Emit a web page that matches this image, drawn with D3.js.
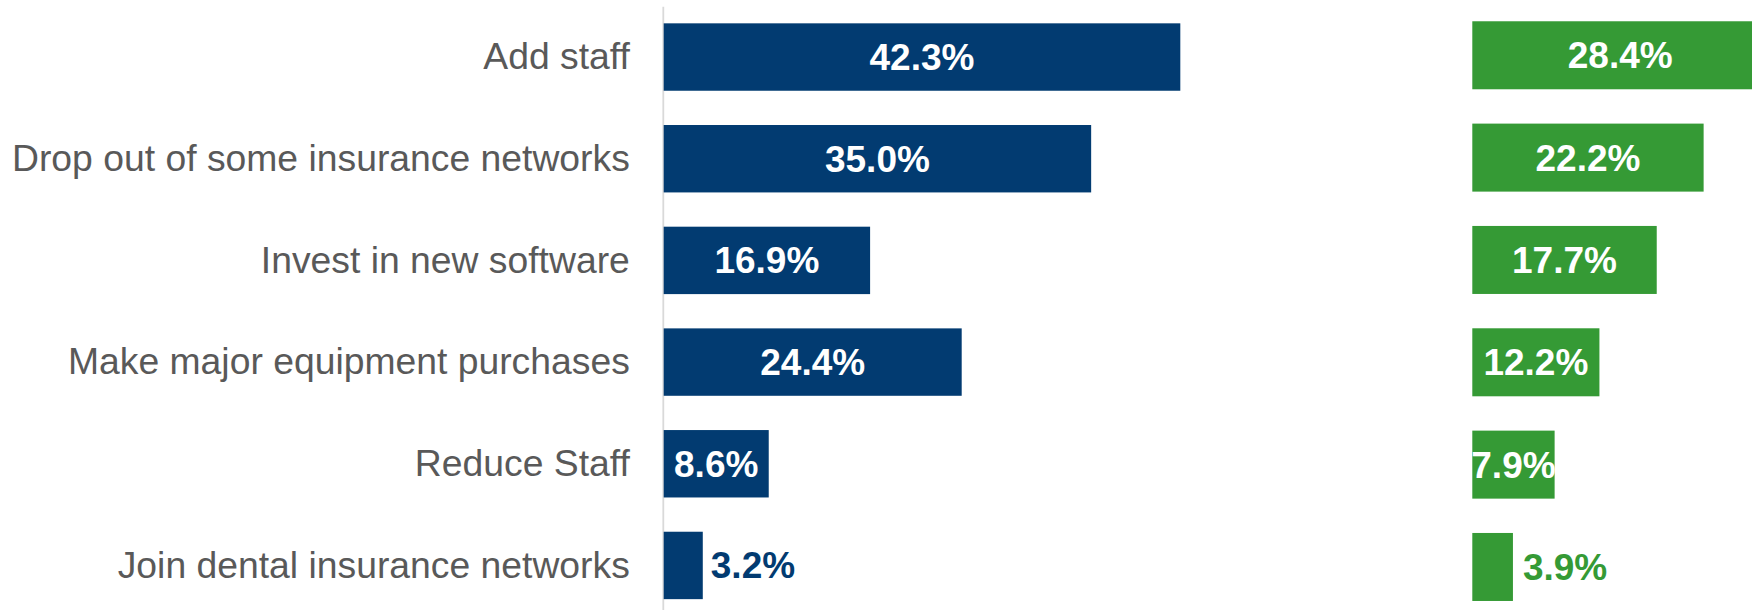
<!DOCTYPE html>
<html>
<head>
<meta charset="utf-8">
<script src="https://cdn.jsdelivr.net/npm/d3@7"></script>
<style>
  html, body { margin: 0; padding: 0; background: #ffffff; }
  svg { display: block; font-family: "Liberation Sans", Arial, Helvetica, sans-serif; }
</style>
</head>
<body>
<svg id="chart" width="1752" height="610"></svg>
<script>
// Planned practice changes, two groups shown side by side
const categories = [
  "Add staff",
  "Drop out of some insurance networks",
  "Invest in new software",
  "Make major equipment purchases",
  "Reduce Staff",
  "Join dental insurance networks"
];
const blueValues  = [42.3, 35.0, 16.9, 24.4, 8.6, 3.2];
const greenValues = [28.4, 22.2, 17.7, 12.2, 7.9, 3.9];

const BLUE = "#023b71";
const GREEN = "#359a35";
const fmt = v => d3.format(".1f")(v) + "%";

const svg = d3.select("#chart");

// Left panel scales
const xBlue = d3.scaleLinear().domain([0, 50]).range([663.7, 663.7 + 50 * 12.213]);
const yBlue = d3.scaleBand().domain(categories)
  .range([6.2, 6.2 + 6 * 101.68]).paddingInner(0.337).paddingOuter(0.1685);

// Right panel scales
const xGreen = d3.scaleLinear().domain([0, 30]).range([1472.3, 1472.3 + 30 * 10.42]);
const yGreen = d3.scaleBand().domain(categories)
  .range([4.1, 4.1 + 6 * 102.34]).paddingInner(0.3355).paddingOuter(0.16775);

// Category axis with light vertical baseline
const axis = svg.append("g")
  .attr("transform", "translate(662.8,0)")
  .call(d3.axisLeft(yBlue).tickSize(0).tickSizeOuter(0).tickPadding(33));
axis.select(".domain").attr("stroke", "#d9d9d9").attr("stroke-width", 1.8);
axis.selectAll(".tick text")
  .attr("font-size", 37.3)
  .attr("fill", "#595959")
  .attr("font-family", "\"Liberation Sans\", Arial, sans-serif")
  .attr("dy", "0.33em");

function drawPanel(values, x, y, color, gap) {
  const g = svg.append("g");
  const rows = categories.map((c, i) => ({ c, v: values[i] }));
  g.selectAll("rect").data(rows).join("rect")
    .attr("x", x(0))
    .attr("y", d => y(d.c))
    .attr("width", d => x(d.v) - x(0))
    .attr("height", y.bandwidth())
    .attr("fill", color);
  g.selectAll("text").data(rows).join("text")
    .attr("x", d => d.v >= 5 ? (x(0) + x(d.v)) / 2 : x(d.v) + gap)
    .attr("y", d => y(d.c) + y.bandwidth() / 2)
    .attr("dy", "0.35em")
    .attr("text-anchor", d => d.v >= 5 ? "middle" : "start")
    .attr("font-size", 37)
    .attr("font-weight", "bold")
    .attr("fill", d => d.v >= 5 ? "#ffffff" : color)
    .text(d => fmt(d.v));
}

drawPanel(blueValues, xBlue, yBlue, BLUE, 8);
drawPanel(greenValues, xGreen, yGreen, GREEN, 10);
</script>
</body>
</html>
